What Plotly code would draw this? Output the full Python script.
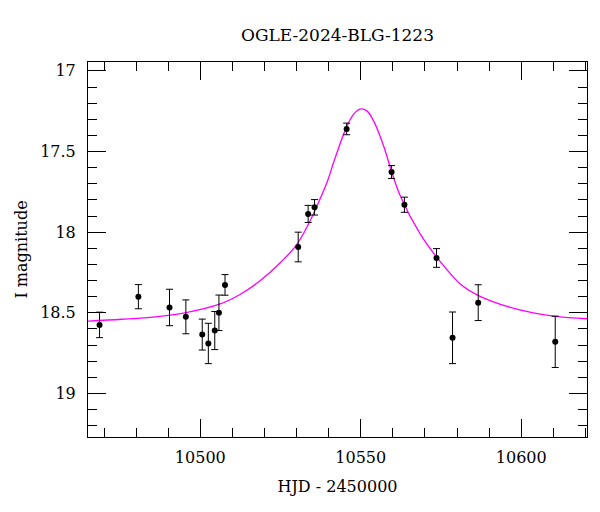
import plotly.graph_objects as go

# Observed photometry (HJD - 2450000, I magnitude, error)
obs_hjd = [10468.6, 10480.7, 10490.4, 10495.5, 10500.6, 10502.5, 10504.5, 10505.8, 10507.7,
           10530.5, 10533.6, 10535.6, 10545.6, 10559.6, 10563.6, 10573.6, 10578.6, 10586.6, 10610.6]
obs_mag = [18.575, 18.400, 18.467, 18.525, 18.635, 18.690, 18.610, 18.500, 18.327,
           18.092, 17.887, 17.846, 17.360, 17.627, 17.830, 18.160, 18.655, 18.437, 18.680]
obs_err = [0.079, 0.075, 0.113, 0.105, 0.096, 0.125, 0.118, 0.110, 0.064,
           0.092, 0.053, 0.048, 0.036, 0.040, 0.047, 0.058, 0.160, 0.111, 0.159]

# Model curve, points
model_hjd = [10465.0, 10475.5, 10485.9, 10495.2, 10506.2, 10512.5, 10518.7, 10524.9, 10530.1,
             10533.7, 10535.6, 10539.5, 10541.5, 10545.7, 10547.8, 10549.8, 10551.9, 10554.0,
             10557.1, 10559.7, 10562.3, 10568.5, 10573.7, 10581.0, 10586.7, 10596.6, 10610.1,
             10620.8]
model_mag = [18.552, 18.540, 18.525, 18.500, 18.445, 18.385, 18.300, 18.190, 18.075,
             17.950, 17.870, 17.690, 17.570, 17.341, 17.268, 17.237, 17.248, 17.310,
             17.464, 17.630, 17.774, 18.011, 18.156, 18.321, 18.393, 18.466, 18.521,
             18.537]

title_text = "OGLE-2024-BLG-1223"
x_label = "HJD - 2450000"
y_label = "I magnitude"
x_ticks = [10500, 10550, 10600]
y_ticks = [17, 17.5, 18, 18.5, 19]

FONT = "DejaVu Serif"

fig = go.Figure()
fig.add_trace(go.Scatter(
    x=model_hjd, y=model_mag, mode="lines",
    line=dict(color="#ff00ff", width=1.3, shape="spline", smoothing=1.0),
    hoverinfo="skip", showlegend=False))
fig.add_trace(go.Scatter(
    x=obs_hjd, y=obs_mag, mode="markers",
    marker=dict(color="black", size=6),
    error_y=dict(type="data", array=obs_err, visible=True, color="black", thickness=1, width=3.5),
    showlegend=False))

axis_common = dict(
    showline=True, linecolor="black", linewidth=1, mirror="ticks",
    ticks="inside", ticklen=18, tickwidth=1, tickcolor="black",
    showgrid=False, zeroline=False,
    tickfont=dict(family=FONT, size=16, color="black"),
)

fig.update_xaxes(
    **axis_common,
    range=[10465, 10620.5], tickmode="array", tickvals=x_ticks,
    ticktext=[str(v) for v in x_ticks],
    minor=dict(ticks="inside", ticklen=9, dtick=10, tick0=10500, tickcolor="black", tickwidth=1, showgrid=False),
    title=dict(text=x_label, font=dict(family=FONT, size=16, color="black"), standoff=14),
    ticklabelstandoff=6,
)
fig.update_yaxes(
    **axis_common,
    range=[19.27, 16.945], tickmode="array", tickvals=y_ticks,
    ticktext=["17", "17.5", "18", "18.5", "19"],
    minor=dict(ticks="inside", ticklen=9, dtick=0.1, tick0=17, tickcolor="black", tickwidth=1, showgrid=False),
    title=dict(text=y_label, font=dict(family=FONT, size=16, color="black"), standoff=8),
    ticklabelstandoff=8,
)

fig.update_layout(
    width=600, height=512,
    margin=dict(l=88, r=13, t=62, b=75),
    paper_bgcolor="white", plot_bgcolor="white",
    title=dict(text=title_text, x=0.5, xref="paper", y=1 - 35 / 512, yref="container",
               xanchor="center", yanchor="middle",
               font=dict(family=FONT, size=17, color="black")),
    font=dict(family=FONT, color="black"),
)

fig.write_html("out.html")
